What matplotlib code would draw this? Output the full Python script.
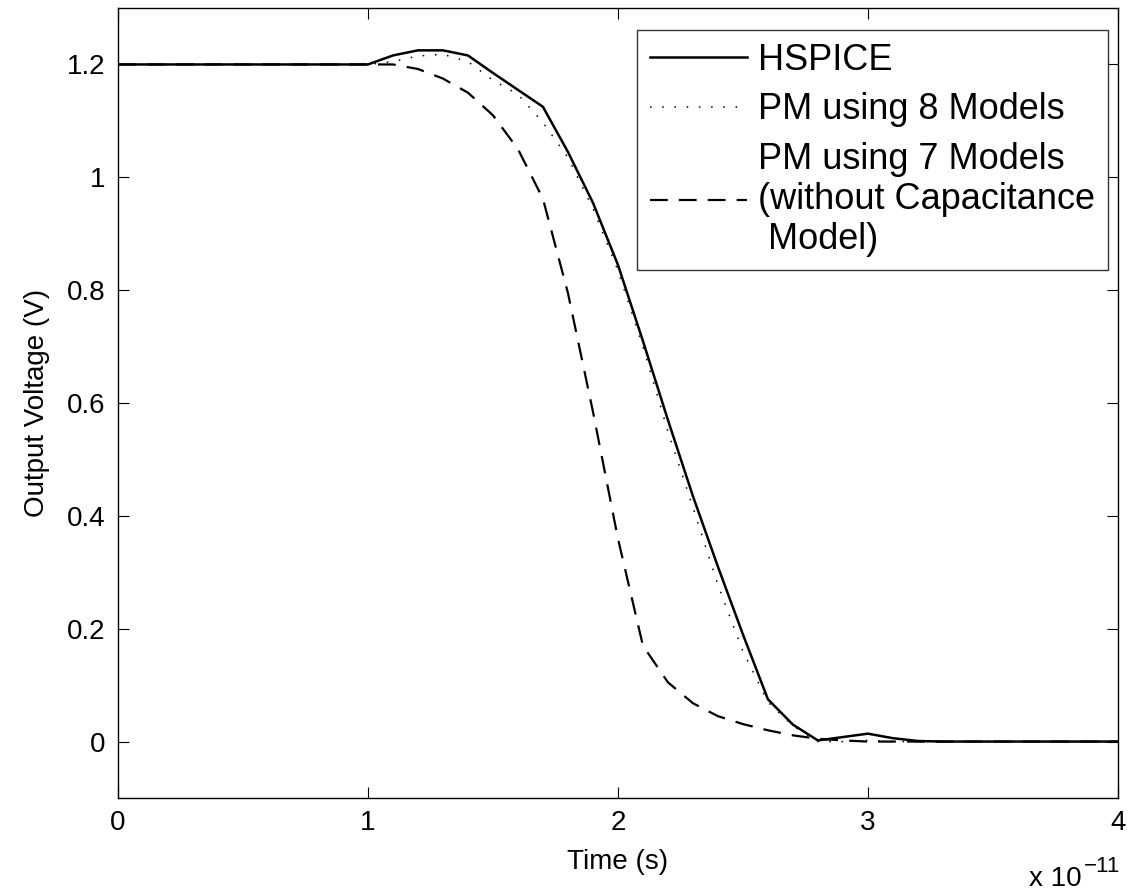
import matplotlib
matplotlib.use("Agg")
import matplotlib.pyplot as plt
from matplotlib.ticker import FuncFormatter, FormatStrFormatter

plt.rcParams['font.family'] = ['Liberation Sans', 'DejaVu Sans']

# time in units of 1e-11 s
t_hspice = [0, 1.0, 1.1, 1.2, 1.3, 1.4, 1.5, 1.6, 1.7, 1.8, 1.9, 2.0, 2.1, 2.2,
            2.3, 2.4, 2.5, 2.6, 2.7, 2.8, 2.9, 3.0, 3.1, 3.2, 3.3, 4.0]
v_hspice = [1.2, 1.2, 1.216, 1.225, 1.225, 1.216, 1.185, 1.155, 1.125, 1.045,
            0.955, 0.845, 0.71, 0.57, 0.435, 0.31, 0.19, 0.075, 0.03, 0.002,
            0.008, 0.014, 0.006, 0.001, 0.0, 0.0]

t_pm8 = [0, 1.0, 1.1, 1.2, 1.3, 1.4, 1.5, 1.6, 1.7, 1.8, 1.9, 2.0, 2.1, 2.2,
         2.3, 2.4, 2.5, 2.6, 2.7, 2.8, 2.9, 3.0, 3.1, 4.0]
v_pm8 = [1.2, 1.2, 1.205, 1.215, 1.218, 1.205, 1.172, 1.147, 1.097, 1.035,
         0.945, 0.835, 0.70, 0.55, 0.415, 0.278, 0.16, 0.07, 0.028, 0.0,
         0.0, 0.002, 0.0, 0.0]

t_pm7 = [0, 1.1, 1.2, 1.3, 1.4, 1.5, 1.6, 1.7, 1.8, 1.9, 2.0, 2.1, 2.2, 2.3,
         2.4, 2.5, 2.6, 2.7, 2.8, 2.9, 3.0, 4.0]
v_pm7 = [1.2, 1.2, 1.192, 1.175, 1.15, 1.11, 1.05, 0.962, 0.795, 0.585, 0.36,
         0.17, 0.105, 0.068, 0.045, 0.031, 0.02, 0.011, 0.005, 0.002, 0.0, 0.0]

labels = ['HSPICE', 'PM using 8 Models',
          'PM using 7 Models\n(without Capacitance\n Model)']
scale = 1e-11


def main():
    fig = plt.figure(figsize=(11.28, 8.93), dpi=100)
    ax = fig.add_axes([0.1046, 0.1064, 0.8864, 0.8846])

    ax.plot([x * scale for x in t_hspice], v_hspice, color='black', lw=1.8,
            label=labels[0])
    ax.plot([x * scale for x in t_pm8], v_pm8, color='black', lw=1.1,
            linestyle=(0, (1, 7)), label=labels[1])
    ax.plot([x * scale for x in t_pm7], v_pm7, color='black', lw=1.6,
            linestyle=(0, (8, 5)), label=labels[2])

    ax.set_xlim(0, 4e-11)
    ax.set_ylim(-0.1, 1.3)
    ax.set_xticks([0, 1e-11, 2e-11, 3e-11, 4e-11])
    ax.set_yticks([0, 0.2, 0.4, 0.6, 0.8, 1.0, 1.2])

    ax.xaxis.set_major_formatter(FuncFormatter(lambda v, p: '%g' % (v / scale)))
    ax.yaxis.set_major_formatter(FormatStrFormatter('%g'))

    # MATLAB style exponent under the x axis
    fig.text(0.959, 0.008, 'x 10', ha='right', va='baseline', fontsize=20)
    fig.text(0.961, 0.024, '\u221211', ha='left', va='baseline', fontsize=16)

    ax.tick_params(direction='in', top=True, right=True, length=8,
                   labelsize=20, pad=9)
    for s in ax.spines.values():
        s.set_linewidth(1.0)

    ax.set_xlabel('Time (s)', fontsize=20, labelpad=9)
    ax.set_ylabel('Output Voltage (V)', fontsize=20, labelpad=12)

    leg = ax.legend(loc='upper right', bbox_to_anchor=(0.99, 0.972),
                    fontsize=26, frameon=True, fancybox=False,
                    handlelength=2.7, handletextpad=0.3, labelspacing=0.4,
                    borderpad=0.35, borderaxespad=0)
    leg.get_frame().set_edgecolor('black')
    leg.get_frame().set_linewidth(1.0)

    fig.savefig('out.png', dpi=100)


if __name__ == "__main__":
    main()
